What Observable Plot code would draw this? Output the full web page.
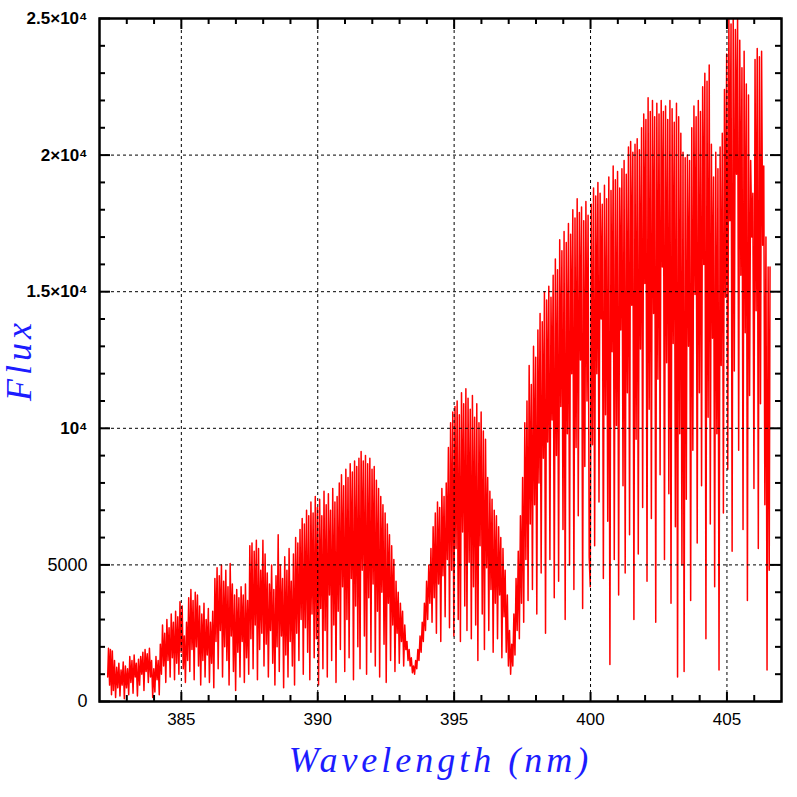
<!DOCTYPE html>
<html>
<head>
<meta charset="utf-8">
<script src="https://cdn.jsdelivr.net/npm/d3@7"></script>
<script src="https://cdn.jsdelivr.net/npm/@observablehq/plot@0.6"></script>
<style>
html, body { margin: 0; padding: 0; background: #fff; }
#chart svg { display: block; }
</style>
</head>
<body>
<div id="chart"></div>
<script>
// Spectrum: [wavelength (nm), flux]
const region382 = [[382.30,900],[382.33,1950],[382.37,600],[382.40,1900],[382.44,250],[382.47,1850],[382.51,400],[382.55,1500],[382.59,150],[382.63,1250],[382.67,500],[382.71,1400],[382.75,200],[382.79,1150],[382.83,600],[382.87,1450],[382.91,100],[382.95,1300],[382.99,500],[383.03,1200],[383.07,250],[383.11,1650],[383.15,700],[383.19,1500],[383.23,300],[383.27,1700],[383.31,900],[383.35,1400],[383.39,200],[383.43,1550],[383.47,600],[383.51,1650],[383.55,1000],[383.59,1800],[383.63,400],[383.67,1900],[383.71,1100],[383.75,1750],[383.79,700],[383.83,1950],[383.87,900],[383.91,1500],[383.95,150],[383.99,1200],[384.03,350],[384.07,1650],[384.11,800],[384.15,1500],[384.19,250],[384.23,2100],[384.27,1000],[384.31,2800],[384.35,1300],[384.39,2500],[384.43,700],[384.47,3000],[384.51,1500],[384.55,2700],[384.59,900],[384.63,3200],[384.67,1600],[384.71,2900],[384.75,800],[384.79,3300],[384.83,1400],[384.87,3100],[384.91,1000],[384.95,3650],[384.99,1800],[385.03,3500],[385.07,1200],[385.11,2400],[385.15,700],[385.19,2900],[385.23,1500],[385.27,3800],[385.31,1100],[385.35,4100],[385.39,1900],[385.43,3700],[385.47,800],[385.51,4000],[385.55,2000],[385.59,3900],[385.63,1300],[385.67,3500],[385.71,600],[385.75,3200],[385.79,1500],[385.83,3600],[385.87,900],[385.91,3000],[385.95,1700],[385.99,3400],[386.03,700],[386.07,2900],[386.11,1400],[386.15,3300],[386.19,500],[386.23,4500],[386.27,2200],[386.31,4900],[386.35,1200],[386.39,4600],[386.43,2600],[386.47,5000],[386.51,900],[386.55,4400],[386.59,2000],[386.63,4800],[386.67,1500],[386.71,4200],[386.75,600],[386.79,5050],[386.83,2400],[386.87,4300],[386.91,1100],[386.95,3900],[386.99,400],[387.03,4100],[387.07,1800],[387.11,3800],[387.15,900],[387.19,4200],[387.23,2200],[387.27,3900],[387.31,700],[387.35,4300],[387.39,1600],[387.43,3700],[387.47,1000],[387.51,5700],[387.55,2300],[387.59,5800],[387.63,1200],[387.67,5500],[387.71,2800],[387.75,5900],[387.79,800],[387.83,5600],[387.87,1900],[387.91,4800],[387.95,2500],[387.99,5900],[388.03,1300]];

const region388 = [[388.07,5400],[388.11,2100],[388.15,4700],[388.19,900],[388.23,4300],[388.27,2600],[388.31,5000],[388.35,1400],[388.39,4100],[388.43,600],[388.47,4600],[388.51,2000],[388.55,6100],[388.59,1100],[388.63,5000],[388.67,2400],[388.71,4500],[388.75,500],[388.79,5300],[388.83,1700],[388.87,4800],[388.91,900],[388.95,5600],[388.99,2200],[389.03,4400],[389.07,1300],[389.11,5400],[389.15,600],[389.19,6000],[389.23,2500],[389.27,5800],[389.31,1500],[389.35,6300],[389.39,3000],[389.43,6700],[389.47,1000],[389.51,6500],[389.55,2700],[389.59,7000],[389.63,1800],[389.67,6800],[389.71,800],[389.75,7300],[389.79,3200],[389.83,6900],[389.87,1600],[389.91,7500],[389.95,2300],[389.99,7100],[390.03,600],[390.07,7400],[390.11,3400],[390.15,6800],[390.19,1200],[390.23,7700],[390.27,2600],[390.31,7200],[390.35,900],[390.39,7600],[390.43,3900],[390.47,7000],[390.51,1500],[390.55,7800],[390.59,2800],[390.63,7300],[390.67,700],[390.71,7500],[390.75,3300],[390.79,8000],[390.83,1900],[390.87,8300],[390.91,4200],[390.95,7900],[390.99,1100],[391.03,8500],[391.07,3000],[391.11,8200],[391.15,1600],[391.19,8700],[391.23,4500],[391.27,8400],[391.31,800],[391.35,8800],[391.39,3500],[391.43,8600],[391.47,2000],[391.51,8900],[391.55,1200],[391.59,9150],[391.63,4800],[391.67,8800],[391.71,2400],[391.75,9000],[391.79,1000],[391.83,8700],[391.87,3800],[391.91,8900],[391.95,1800],[391.99,8500],[392.03,4300],[392.07,8600],[392.11,1300],[392.15,8100],[392.19,3300],[392.23,7800],[392.27,900],[392.31,7500],[392.35,4000],[392.39,7200],[392.43,2100],[392.47,6900],[392.51,700],[392.55,6500],[392.59,3600],[392.63,6100],[392.67,1500],[392.71,5700],[392.75,2800],[392.79,5200],[392.83,1100],[392.87,4400],[392.91,2500],[392.95,4000],[392.99,1400],[393.03,3600],[393.07,2200],[393.11,3300],[393.15,1300],[393.19,2800],[393.23,1900],[393.27,2200],[393.31,1500],[393.35,1900],[393.39,1300],[393.43,1600],[393.47,1050],[393.51,1300],[393.55,1000],[393.59,1500],[393.63,1200],[393.67,1900],[393.71,1500],[393.75,2400],[393.79,1800],[393.83,2900],[393.87,2200],[393.91,3600],[393.95,2600],[393.99,4400]];

const region394 = [[394.03,3000],[394.07,5000],[394.11,3600],[394.15,5600],[394.19,2900],[394.23,6400],[394.27,3800],[394.31,6900],[394.35,2500],[394.39,7300],[394.43,4300],[394.47,7100],[394.51,2200],[394.55,7800],[394.59,4600],[394.63,7500],[394.67,3100],[394.71,8000],[394.75,5200],[394.79,9300],[394.83,2700],[394.87,10200],[394.91,4800],[394.95,10600],[394.99,2400],[395.03,10800],[395.07,5600],[395.11,11000],[395.15,3000],[395.19,10500],[395.23,2200],[395.27,11300],[395.31,6200],[395.35,10900],[395.39,3500],[395.43,11450],[395.47,2600],[395.51,11100],[395.55,5100],[395.59,10700],[395.63,2300],[395.67,11200],[395.71,4200],[395.75,10400],[395.79,2800],[395.83,10900],[395.87,1500],[395.91,10200],[395.95,5700],[395.99,10600],[396.03,3200],[396.07,9900],[396.11,1900],[396.15,9600],[396.19,4900],[396.23,8200],[396.27,2600],[396.31,7700],[396.35,4100],[396.39,7400],[396.43,1800],[396.47,7000],[396.51,3600],[396.55,6800],[396.59,2300],[396.63,6400],[396.67,3900],[396.71,6000],[396.75,1600],[396.79,5600],[396.83,3100],[396.87,4800],[396.91,1800],[396.95,3900],[396.99,1300],[397.03,2600],[397.07,1000],[397.11,2100],[397.15,1300],[397.19,3200],[397.23,1700],[397.27,4500],[397.31,2600],[397.35,5500],[397.39,2300],[397.43,6800],[397.47,3600],[397.51,8200],[397.55,2900],[397.59,10200],[397.63,5200],[397.67,11000],[397.71,3700],[397.75,12300],[397.79,6500],[397.83,11600],[397.87,4100],[397.91,13000],[397.95,7200],[397.99,12600],[398.03,3200],[398.07,13600],[398.11,8000],[398.15,14200],[398.19,4700],[398.23,13900],[398.27,8900],[398.31,15000],[398.35,2500],[398.39,14700],[398.43,9500],[398.47,15200],[398.51,5200],[398.55,14800],[398.59,10300],[398.63,15600],[398.67,3800],[398.71,16200],[398.75,9000],[398.79,15800],[398.83,4400],[398.87,16900],[398.91,10800],[398.95,16500],[398.99,6300],[399.03,17200],[399.07,3000],[399.11,16800],[399.15,9800],[399.19,17500],[399.23,5000],[399.27,17100],[399.31,12000],[399.35,18000],[399.39,4100],[399.43,17700],[399.47,9300],[399.51,18400],[399.55,6800],[399.59,17900],[399.63,12500],[399.67,18100],[399.71,3400],[399.75,17600],[399.79,8600],[399.83,18300],[399.87,11000],[399.91,17800],[399.95,5300],[399.99,4200]];

const region400 = [[400.03,18200],[400.07,9400],[400.11,18800],[400.15,5700],[400.19,18500],[400.23,12000],[400.27,19000],[400.31,7300],[400.35,18600],[400.39,14000],[400.43,18200],[400.47,4500],[400.51,18900],[400.55,10500],[400.59,18400],[400.63,6600],[400.67,19200],[400.71,1350],[400.75,18700],[400.79,12800],[400.83,19600],[400.87,5200],[400.91,19100],[400.95,10100],[400.99,19400],[401.03,3900],[401.07,18800],[401.11,13600],[401.15,19500],[401.19,7900],[401.23,19800],[401.27,4700],[401.31,19300],[401.35,11300],[401.39,20300],[401.43,6100],[401.47,20500],[401.51,14500],[401.55,20100],[401.59,3000],[401.63,20400],[401.67,9600],[401.71,20600],[401.75,5400],[401.79,20200],[401.83,12900],[401.87,21000],[401.91,7100],[401.95,21500],[401.99,15300],[402.03,21300],[402.07,4400],[402.11,22100],[402.15,10700],[402.19,21600],[402.23,6700],[402.27,22000],[402.31,14200],[402.35,21400],[402.39,2900],[402.43,21900],[402.47,11800],[402.51,21500],[402.55,8300],[402.59,22000],[402.63,15900],[402.67,21600],[402.71,5200],[402.75,21800],[402.79,12400],[402.83,21300],[402.87,7600],[402.91,22000],[402.95,3600],[402.99,21700],[403.03,13100],[403.07,21200],[403.11,6400],[403.15,21900],[403.19,900],[403.23,21400],[403.27,9800],[403.31,20800],[403.35,5000],[403.39,20100],[403.43,1100],[403.47,19900],[403.51,7400],[403.55,20000],[403.59,13000],[403.63,19800],[403.67,3700],[403.71,21000],[403.75,9200],[403.79,21800],[403.83,14900],[403.87,21400],[403.91,5800],[403.95,22000],[403.99,11300],[404.03,21600],[404.07,7900],[404.11,22500],[404.15,16000],[404.19,23000],[404.23,2300],[404.27,22700],[404.31,10400],[404.35,23300],[404.39,6500],[404.43,20400],[404.47,13300],[404.51,19200],[404.55,4200],[404.59,20100],[404.63,9800],[404.67,19500],[404.71,1150],[404.75,20300],[404.79,12300],[404.83,20800],[404.87,6900],[404.91,22400],[404.95,14800],[404.99,23700],[405.03,8500],[405.07,25000],[405.11,17600],[405.15,24800],[405.19,5500],[405.23,25000],[405.27,12100],[405.31,24600],[405.35,19300],[405.39,25000],[405.43,9200],[405.47,24200],[405.51,15600],[405.55,23200],[405.59,6300],[405.63,23800],[405.67,13500],[405.71,22600],[405.75,3700],[405.79,22200],[405.83,11200],[405.87,19800],[405.91,17000],[405.95,18600],[405.99,7800],[406.03,23500],[406.07,14300],[406.11,23900],[406.15,5600],[406.19,23600],[406.23,10900],[406.27,23800],[406.31,16700],[406.35,19600],[406.39,7200],[406.43,17000],[406.47,1150],[406.51,15900],[406.55,4800],[406.58,15900]];

const xMajorTicks = [385, 390, 395, 400, 405];
const xMinorTicks = [383, 384, 386, 387, 388, 389, 391, 392, 393, 394, 396, 397, 398, 399, 401, 402, 403, 404, 406];
const yMajorTicks = [0, 5000, 10000, 15000, 20000, 25000];
const yMinorTicks = [1000, 2000, 3000, 4000, 6000, 7000, 8000, 9000, 11000, 12000, 13000, 14000, 16000, 17000, 18000, 19000, 21000, 22000, 23000, 24000];
const yTickLabels = ["0", "5000", "10\u2074", "1.5\u00d710\u2074", "2\u00d710\u2074", "2.5\u00d710\u2074"];
const xLabel = "Wavelength (nm)";
const yLabel = "Flux";

const spectrum = [...region382, ...region388, ...region394, ...region400];

const W = 797, H = 797;
const mL = 99, mR = 16, mT = 18, mB = 96;
const fw = W - mL - mR;   // frame width
const fh = H - mT - mB;   // frame height
const majorLen = 11, minorLen = 6;
const labelFont = "Liberation Serif, Times New Roman, serif";
const tickFont = "Liberation Sans, Arial, DejaVu Sans, sans-serif";
const yFmt = d => yTickLabels[yMajorTicks.indexOf(d)];

const chart = Plot.plot({
  width: W,
  height: H,
  marginLeft: mL,
  marginRight: mR,
  marginTop: mT,
  marginBottom: mB,
  style: {background: "#fff"},
  x: {domain: [382, 407]},
  y: {domain: [0, 25000]},
  marks: [
    Plot.line(spectrum, {x: d => d[0], y: d => d[1], stroke: "#ff0000", strokeWidth: 1.5, clip: true}),
    Plot.gridX(xMajorTicks, {stroke: "#000", strokeOpacity: 1, strokeWidth: 1, strokeDasharray: "3,3"}),
    Plot.gridY(yMajorTicks.filter(v => v > 0 && v < 25000), {stroke: "#000", strokeOpacity: 1, strokeWidth: 1, strokeDasharray: "3,3"}),
    // inward ticks on all four sides
    Plot.tickX(xMinorTicks, {x: d => d, insetTop: fh - minorLen, strokeWidth: 2}),
    Plot.tickX(xMajorTicks, {x: d => d, insetTop: fh - majorLen + 2, strokeWidth: 2}),
    Plot.tickX(xMinorTicks, {x: d => d, insetBottom: fh - minorLen, strokeWidth: 2}),
    Plot.tickX(xMajorTicks, {x: d => d, insetBottom: fh - majorLen, strokeWidth: 2}),
    Plot.tickY(yMinorTicks, {y: d => d, insetRight: fw - minorLen, strokeWidth: 2}),
    Plot.tickY(yMajorTicks, {y: d => d, insetRight: fw - majorLen, strokeWidth: 2}),
    Plot.tickY(yMinorTicks, {y: d => d, insetLeft: fw - minorLen, strokeWidth: 2}),
    Plot.tickY(yMajorTicks, {y: d => d, insetLeft: fw - majorLen, strokeWidth: 2}),
    Plot.frame({stroke: "#000", strokeWidth: 2.5}),
    Plot.axisX(xMajorTicks, {tickSize: 0, tickPadding: 11, label: null, fontSize: 17, fontFamily: tickFont, fill: "#000", tickFormat: d => String(d)}),
    Plot.axisY(yMajorTicks.slice(0, 2), {tickSize: 0, tickPadding: 12, label: null, fontSize: 18, fontFamily: tickFont, fill: "#000", tickFormat: yFmt}),
    Plot.axisY(yMajorTicks.slice(2), {tickSize: 0, tickPadding: 12, label: null, fontSize: 17, fontWeight: "bold", fontFamily: tickFont, fill: "#000", tickFormat: yFmt}),
    Plot.text([xLabel], {frameAnchor: "bottom", textAnchor: "middle", dy: 70, text: d => d, fontSize: 36, fontStyle: "italic", fontFamily: labelFont, fill: "#1c1cff"}),
    Plot.text([yLabel], {frameAnchor: "left", textAnchor: "middle", dx: -80, rotate: -90, text: d => d, fontSize: 36, fontStyle: "italic", fontFamily: labelFont, fill: "#1c1cff"})
  ]
});

// widen the axis titles like the reference's stroke font
d3.select(chart).selectAll("text")
  .filter(function() { return this.textContent === xLabel || this.textContent === yLabel; })
  .style("letter-spacing", "4px");

document.getElementById("chart").appendChild(chart);
</script>
</body>
</html>
